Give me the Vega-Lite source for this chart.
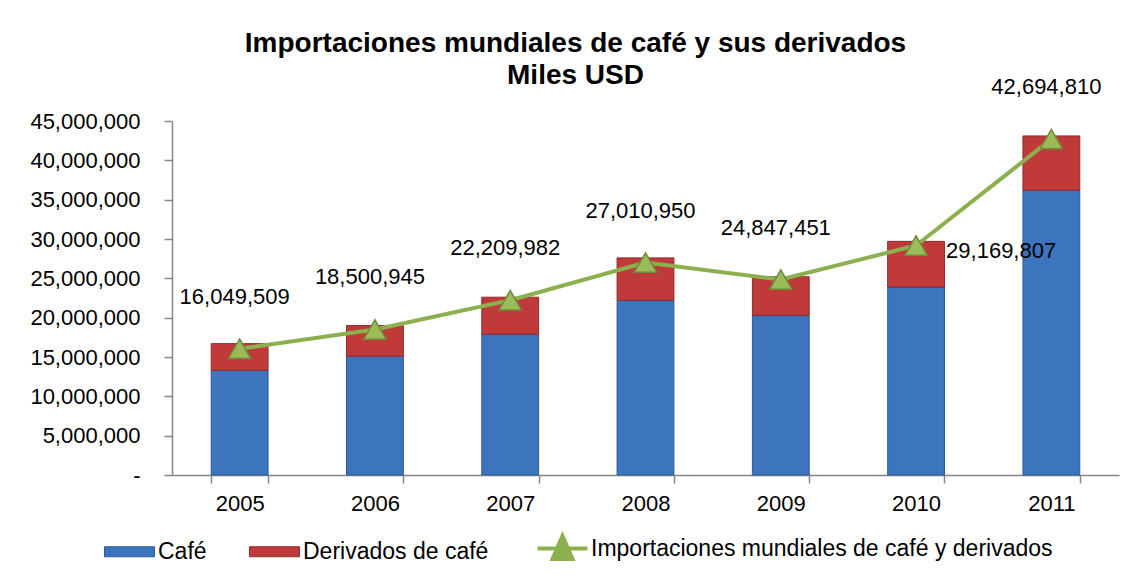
{
  "$schema": "https://vega.github.io/schema/vega-lite/v6.json",
  "width": 947,
  "height": 354,
  "autosize": {"type": "none"},
  "padding": {"left": 172, "top": 121, "right": 15, "bottom": 104},
  "background": "white",
  "config": {
    "font": "Liberation Sans",
    "view": {"stroke": null},
    "axis": {"labelFont": "Liberation Sans", "labelColor": "black", "domainColor": "#868686", "tickColor": "#868686", "grid": false, "title": null},
    "legend": {"labelFont": "Liberation Sans"}
  },
  "title": {
    "text": ["Importaciones mundiales de café y sus derivados", "Miles USD"],
    "font": "Liberation Sans",
    "fontSize": 28,
    "fontWeight": "bold",
    "color": "black",
    "anchor": "middle",
    "dx": -70,
    "offset": -14,
    "lineHeight": 32
  },
  "datasets": {
    "barras": [
      {"anio": "2005", "serie": "Café", "valor": 13300000},
      {"anio": "2005", "serie": "Derivados de café", "valor": 3400000},
      {"anio": "2006", "serie": "Café", "valor": 15100000},
      {"anio": "2006", "serie": "Derivados de café", "valor": 3900000},
      {"anio": "2007", "serie": "Café", "valor": 17900000},
      {"anio": "2007", "serie": "Derivados de café", "valor": 4700000},
      {"anio": "2008", "serie": "Café", "valor": 22200000},
      {"anio": "2008", "serie": "Derivados de café", "valor": 5400000},
      {"anio": "2009", "serie": "Café", "valor": 20300000},
      {"anio": "2009", "serie": "Derivados de café", "valor": 4900000},
      {"anio": "2010", "serie": "Café", "valor": 23900000},
      {"anio": "2010", "serie": "Derivados de café", "valor": 5800000},
      {"anio": "2011", "serie": "Café", "valor": 36200000},
      {"anio": "2011", "serie": "Derivados de café", "valor": 6900000}
    ],
    "totales": [
      {"anio": "2005", "valor": 16049509},
      {"anio": "2006", "valor": 18500945},
      {"anio": "2007", "valor": 22209982},
      {"anio": "2008", "valor": 27010950},
      {"anio": "2009", "valor": 24847451},
      {"anio": "2010", "valor": 29169807},
      {"anio": "2011", "valor": 42694810}
    ]
  },
  "encoding": {
    "x": {
      "field": "anio", "type": "ordinal",
      "scale": {"paddingInner": 0.58, "paddingOuter": 0.29},
      "axis": {"labelAngle": 0, "labelFontSize": 22, "tickBand": "extent", "tickSize": 8, "labelPadding": 10, "domainWidth": 1.5, "tickWidth": 1.5}
    },
    "y": {
      "field": "valor", "type": "quantitative",
      "scale": {"domain": [0, 45000000], "nice": false},
      "axis": {"values": [0, 5000000, 10000000, 15000000, 20000000, 25000000, 30000000, 35000000, 40000000, 45000000], "labelExpr": "datum.value == 0 ? '-    ' : format(datum.value, ',')", "labelFontSize": 22, "tickSize": 8, "labelPadding": 24, "domainWidth": 1.5, "tickWidth": 1.5}
    }
  },
  "layer": [
    {
      "data": {"name": "barras"},
      "mark": {"type": "bar", "strokeWidth": 1},
      "encoding": {
        "y": {"field": "valor", "type": "quantitative", "stack": "zero"},
        "order": {"field": "serie", "type": "nominal", "sort": "ascending"},
        "color": {
          "field": "serie", "type": "nominal",
          "scale": {"domain": ["Café", "Derivados de café", "Importaciones mundiales de café y derivados"], "range": ["#3D74BE", "#C03A3A", "#8DB04E"]},
          "legend": {
            "title": null,
            "orient": "none",
            "legendX": -54,
            "legendY": 416,
            "direction": "horizontal",
            "labelFontSize": 23,
            "labelColor": "black",
            "labelLimit": 0,
            "symbolSize": 2500,
            "symbolType": "M-1,-0.2H1V0.2H-1Z",
            "columnPadding": 40,
            "labelOffset": 17,
            "encode": {
              "symbols": {
                "update": {
                  "shape": {"signal": "datum.value === 'Importaciones mundiales de café y derivados' ? 'M-1,0H1M-0.4,0.42L0,-0.5L0.4,0.42Z' : 'M-1,-0.2H1V0.2H-1Z'"},
                  "stroke": {"signal": "datum.value === 'Importaciones mundiales de café y derivados' ? '#8DB04E' : (datum.value === 'Café' ? '#2C5A96' : '#8E2A2A')"},
                  "strokeWidth": {"signal": "datum.value === 'Importaciones mundiales de café y derivados' ? 4 : 1"}
                }
              }
            }
          }
        },
        "stroke": {
          "field": "serie", "type": "nominal",
          "scale": {"domain": ["Café", "Derivados de café"], "range": ["#2C5A96", "#8E2A2A"]},
          "legend": null
        }
      }
    },
    {
      "data": {"name": "totales"},
      "mark": {"type": "line", "color": "#8DB04E", "strokeWidth": 4}
    },
    {
      "data": {"name": "totales"},
      "mark": {"type": "point", "shape": "triangle-up", "size": 500, "filled": true, "fill": "#9BBB59", "stroke": "#6E8C38", "strokeWidth": 1.5, "opacity": 1}
    },
    {
      "data": {"name": "totales"},
      "transform": [{"filter": "datum.anio != '2010'"}],
      "mark": {"type": "text", "fontSize": 22, "font": "Liberation Sans", "color": "black", "dy": -52, "dx": -5},
      "encoding": {
        "text": {"field": "valor", "type": "quantitative", "format": ","}
      }
    },
    {
      "data": {"name": "totales"},
      "transform": [{"filter": "datum.anio == '2010'"}],
      "mark": {"type": "text", "fontSize": 22, "font": "Liberation Sans", "color": "black", "align": "left", "dx": 30, "dy": 5},
      "encoding": {
        "text": {"field": "valor", "type": "quantitative", "format": ","}
      }
    }
  ]
}
